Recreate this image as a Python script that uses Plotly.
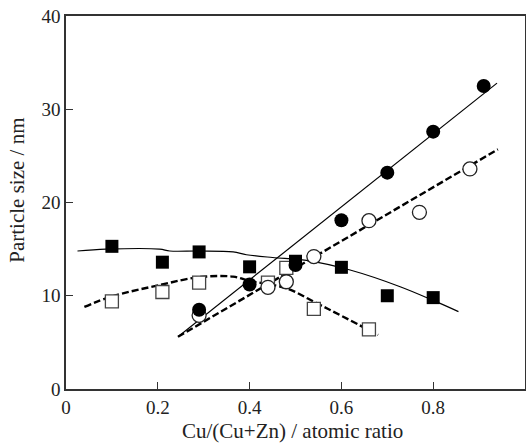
import plotly.graph_objects as go

# Data series
x_fill_sq = [0.10, 0.21, 0.29, 0.40, 0.50, 0.60, 0.70, 0.80]
y_fill_sq = [15.3, 13.6, 14.7, 13.1, 13.7, 13.05, 10.0, 9.8]

x_open_sq = [0.10, 0.21, 0.29, 0.44, 0.48, 0.54, 0.66]
y_open_sq = [9.4, 10.4, 11.4, 11.4, 13.0, 8.6, 6.4]

x_fill_ci = [0.29, 0.40, 0.50, 0.60, 0.70, 0.80, 0.91]
y_fill_ci = [8.5, 11.2, 13.3, 18.1, 23.2, 27.6, 32.5]

x_open_ci = [0.29, 0.44, 0.48, 0.54, 0.66, 0.77, 0.88]
y_open_ci = [7.9, 10.9, 11.5, 14.2, 18.05, 18.95, 23.6]

# Guide curves
fit_fill_ci_x = [0.244, 0.939]
fit_fill_ci_y = [5.6, 32.8]

fit_open_ci_x = [0.244, 0.941]
fit_open_ci_y = [5.6, 25.7]

fit_fill_sq_x = [0.025, 0.087, 0.204, 0.226, 0.291, 0.364, 0.393, 0.45, 0.524, 0.619, 0.728, 0.80, 0.855]
fit_fill_sq_y = [14.8, 15.0, 15.0, 14.8, 14.8, 14.7, 14.4, 14.1, 13.8, 12.76, 10.97, 9.5, 8.3]

fit_open_sq_x = [0.04, 0.098, 0.204, 0.291, 0.364, 0.40, 0.48, 0.546, 0.604, 0.68]
fit_open_sq_y = [8.8, 9.9, 11.15, 12.0, 12.05, 11.6, 10.8, 9.2, 7.75, 5.8]

x_ticks = [0, 0.2, 0.4, 0.6, 0.8, 1]
x_tick_text = ["0", "0.2", "0.4", "0.6", "0.8", "1"]
y_ticks = [0, 10, 20, 30, 40]

x_title = "Cu/(Cu+Zn) / atomic ratio"
y_title = "Particle size / nm"

fig = go.Figure()

dash = "7px,3px"
fig.add_trace(go.Scatter(x=fit_fill_sq_x, y=fit_fill_sq_y, mode="lines",
                         line=dict(color="black", width=1.2, shape="spline"), showlegend=False))
fig.add_trace(go.Scatter(x=fit_open_sq_x, y=fit_open_sq_y, mode="lines",
                         line=dict(color="black", width=2.4, dash=dash, shape="spline"), showlegend=False))
fig.add_trace(go.Scatter(x=fit_fill_ci_x, y=fit_fill_ci_y, mode="lines",
                         line=dict(color="black", width=1.2), showlegend=False))
fig.add_trace(go.Scatter(x=fit_open_ci_x, y=fit_open_ci_y, mode="lines",
                         line=dict(color="black", width=2.4, dash=dash), showlegend=False))

fig.add_trace(go.Scatter(x=x_open_sq, y=y_open_sq, mode="markers",
                         marker=dict(symbol="square", size=13, color="white",
                                     line=dict(color="#444", width=1.3)), showlegend=False))
fig.add_trace(go.Scatter(x=x_open_ci, y=y_open_ci, mode="markers",
                         marker=dict(symbol="circle", size=14, color="white",
                                     line=dict(color="#222", width=1.3)), showlegend=False))
fig.add_trace(go.Scatter(x=x_fill_ci, y=y_fill_ci, mode="markers",
                         marker=dict(symbol="circle", size=14, color="black",
                                     line=dict(color="black", width=0)), showlegend=False))
fig.add_trace(go.Scatter(x=x_fill_sq, y=y_fill_sq, mode="markers",
                         marker=dict(symbol="square", size=13, color="black",
                                     line=dict(color="black", width=0)), showlegend=False))

family = "Liberation Serif, Times New Roman, serif"
tickfont = dict(family=family, size=19, color="#222")
fig.update_layout(
    width=526, height=443,
    margin=dict(l=66, r=1, t=16, b=54, autoexpand=False),
    paper_bgcolor="white", plot_bgcolor="white",
    font=dict(family=family, size=19, color="#222"),
    xaxis=dict(range=[0, 1], tickvals=x_ticks, ticktext=x_tick_text, tickfont=tickfont,
               ticks="inside", ticklen=7, tickwidth=1.2, tickcolor="#333",
               showline=True, linecolor="#333", linewidth=1.5, mirror=True,
               showgrid=False, zeroline=False, automargin=False),
    yaxis=dict(range=[0, 40], tickvals=y_ticks, tickfont=tickfont,
               ticks="inside", ticklen=7, tickwidth=1.2, tickcolor="#333",
               showline=True, linecolor="#333", linewidth=1.5, mirror=True,
               showgrid=False, zeroline=False, automargin=False),
    annotations=[
        dict(text=x_title, xref="paper", yref="paper", x=0.493, y=-0.113,
             xanchor="center", yanchor="middle", showarrow=False,
             font=dict(family=family, size=21, color="#222")),
        dict(text=y_title, xref="paper", yref="paper", x=-0.107, y=0.534,
             xanchor="center", yanchor="middle", textangle=-90, showarrow=False,
             font=dict(family=family, size=21, color="#222")),
    ],
)

fig.write_html("out.html")
